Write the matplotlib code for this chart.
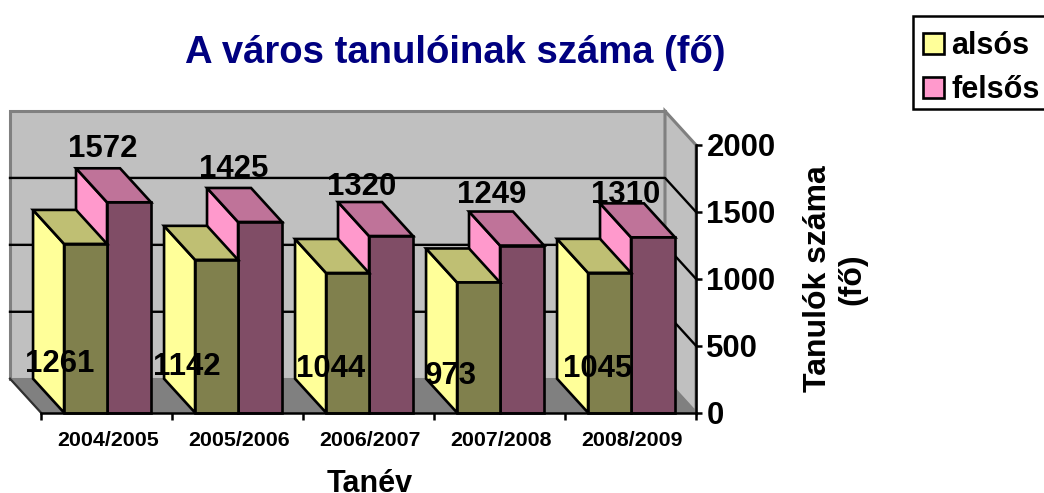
import matplotlib
matplotlib.use('Agg')
import matplotlib.pyplot as plt
from matplotlib.patches import Patch, Polygon, Rectangle
from matplotlib.colors import to_rgb

plt.rcParams['font.family'] = ['Liberation Sans', 'DejaVu Sans']
plt.rcParams['font.weight'] = 'bold'

years = ['2004/2005', '2005/2006', '2006/2007', '2007/2008', '2008/2009']
also = [1261, 1142, 1044, 973, 1045]
felso = [1572, 1425, 1320, 1249, 1310]
yticks = [0, 500, 1000, 1500, 2000]

# where the labels sit, Excel put them rather oddly
also_label_x = [0.14, 0.115, 0.21, 0.13, 0.25]
also_label_y = [365, 340, 325, 275, 325]
felso_label_x = [0.47, 0.47, 0.45, 0.44, 0.46]
felso_label_gap = [145, 140, 115, 120, 60]

W, H = 1044, 493
DX = -31 / 131      # depth of the 3D box, in category units
DY = 254            # same, in value units

YELLOW = '#FFFF99'
PINK = '#FF99CC'
WALL = '#C0C0C0'
FLOOR = '#808080'


def shade(col, f):
    return tuple(c * f for c in to_rgb(col))


def box(ax, x0, x1, val, col, z):
    # side, top, then front face of one 3D column
    side = [(x0, 0), (x0 + DX, DY), (x0 + DX, val + DY), (x0, val)]
    top = [(x0, val), (x0 + DX, val + DY), (x1 + DX, val + DY), (x1, val)]
    front = [(x0, 0), (x1, 0), (x1, val), (x0, val)]
    for pts, c in ((side, col), (top, shade(col, 0.75)), (front, shade(col, 0.5))):
        ax.add_patch(Polygon(pts, closed=True, fc=c, ec='black', lw=1.9, zorder=z,
                             clip_on=False, joinstyle='miter'))


fig = plt.figure(figsize=(W / 100, H / 100), dpi=100)
ax = fig.add_axes([41 / W, 1 - 412.7 / H, (696 - 41) / W, (412.7 - 145) / H])
ax.set_xlim(0, 5)
ax.set_ylim(0, 2000)
ax.patch.set_visible(False)

# back wall, right wall and floor
ax.add_patch(Polygon([(DX, DY), (5 + DX, DY), (5 + DX, 2000 + DY), (DX, 2000 + DY)],
                     fc=WALL, ec=FLOOR, lw=2.2, zorder=1, clip_on=False))
ax.add_patch(Polygon([(5 + DX, DY), (5, 0), (5, 2000), (5 + DX, 2000 + DY)],
                     fc=WALL, ec=FLOOR, lw=2.2, zorder=1, clip_on=False))
ax.add_patch(Polygon([(0, 0), (5, 0), (5 + DX, DY), (DX, DY)],
                     fc=FLOOR, ec=FLOOR, lw=1, zorder=2, clip_on=False))
ax.plot([0, DX], [0, DY], color='#303030', lw=1.6, zorder=2, clip_on=False)

for v in yticks[1:-1]:
    ax.plot([DX, 5 + DX, 5], [v + DY, v + DY, v], color='black', lw=1.7, zorder=2,
            clip_on=False)

for i in range(len(years)):
    box(ax, i + 0.504, i + 0.84, felso[i], PINK, 3 + i)
    box(ax, i + 0.176, i + 0.504, also[i], YELLOW, 3.5 + i)

for i in range(len(years)):
    ax.text(i + also_label_x[i], also_label_y[i], str(also[i]), fontsize=22.4,
            ha='center', va='center', zorder=20, clip_on=False)
    ax.text(i + felso_label_x[i], felso[i] + DY + felso_label_gap[i], str(felso[i]),
            fontsize=22.4, ha='center', va='center', zorder=20, clip_on=False)

for s in ('top', 'left'):
    ax.spines[s].set_visible(False)
for s in ('right', 'bottom'):
    ax.spines[s].set_linewidth(1.8)
    ax.spines[s].set_zorder(15)

ax.yaxis.tick_right()
ax.set_yticks(yticks)
ax.tick_params(axis='y', labelsize=22.4, length=4.5, width=1.8, pad=3)

ax.set_xticks(range(len(years) + 1))
ax.set_xticklabels([])
ax.set_xticks([i + 0.51 for i in range(len(years))], minor=True)
ax.set_xticklabels(years, minor=True, fontsize=15.4)
ax.tick_params(axis='x', which='major', length=5, width=1.8)
ax.tick_params(axis='x', which='minor', length=0, pad=13)

fig.text(455 / W, 1 - 53 / H, 'A város tanulóinak száma (fő)', fontsize=27.5, color='#000080',
         ha='center', va='center')
fig.text(369.5 / W, 1 - 492.5 / H, 'Tanév', fontsize=22, ha='center', va='baseline')
fig.text(835 / W, 1 - 279 / H, 'Tanulók száma\n(fő)', fontsize=23, rotation=90,
         ha='center', va='center', linespacing=1.2, multialignment='center')

# frame is drawn by hand, its right edge runs off the picture
fig.add_artist(Rectangle((913 / W, 1 - 109 / H), 140 / W, 93 / H, transform=fig.transFigure,
                         fc='white', ec='black', lw=1.8))
handles = [Patch(fc=YELLOW, ec='black', lw=1.9), Patch(fc=PINK, ec='black', lw=1.9)]
leg = fig.legend(handles, ['alsós', 'felsős'], loc='upper left', bbox_to_anchor=(913 / W, 1 - 21 / H),
                 borderaxespad=0, fontsize=22, frameon=False,
                 handlelength=0.68, handleheight=0.68, handletextpad=0.25, borderpad=0.32,
                 labelspacing=0.47)

fig.savefig('out.png', dpi=100)
